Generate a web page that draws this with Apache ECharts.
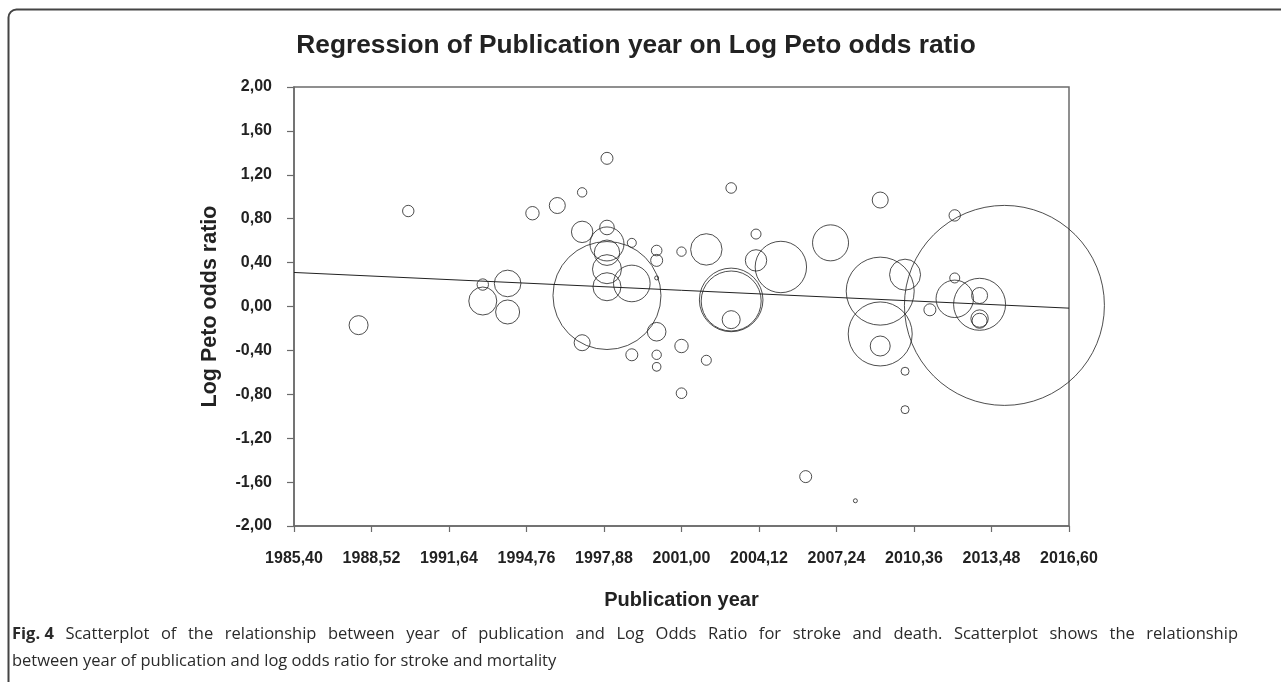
<!DOCTYPE html>
<html><head><meta charset="utf-8">
<script src="https://cdn.jsdelivr.net/npm/echarts@6/dist/echarts.min.js"></script>
<style>html,body{margin:0;padding:0;background:#fff}#c{width:1281px;height:682px}</style>
</head><body><div id="c"></div>
<script>
const chartTitle = 'Regression of Publication year on Log Peto odds ratio';
const xName = 'Publication year';
const yName = 'Log Peto odds ratio';
const captionBold = 'Fig. 4';
const captionLine1 = 'Scatterplot of the relationship between year of publication and Log Odds Ratio for stroke and death. Scatterplot shows the relationship';
const captionLine2 = 'between year of publication and log odds ratio for stroke and mortality';
const xTicks = [1985.40, 1988.52, 1991.64, 1994.76, 1997.88, 2001.00, 2004.12, 2007.24, 2010.36, 2013.48, 2016.60];
const years = [1988, 1990, 1993, 1993, 1994, 1994, 1995, 1996, 1997, 1997, 1997,
  1998, 1998, 1998, 1998, 1998, 1998, 1998, 1999, 1999, 1999,
  2000, 2000, 2000, 2000, 2000, 2000, 2001, 2001, 2001, 2002, 2002,
  2003, 2003, 2003, 2003, 2004, 2004, 2005, 2006, 2007, 2008,
  2009, 2009, 2009, 2009, 2010, 2010, 2010, 2011, 2012, 2012, 2012,
  2013, 2013, 2013, 2013, 2014];
const logOR = [-0.17, 0.87, 0.20, 0.05, 0.21, -0.05, 0.85, 0.92, 1.04, 0.68, -0.33,
  1.35, 0.72, 0.57, 0.49, 0.34, 0.18, 0.10, 0.58, 0.21, -0.44,
  0.51, 0.42, 0.26, -0.23, -0.44, -0.55, 0.50, -0.36, -0.79, 0.52, -0.49,
  1.08, 0.06, 0.05, -0.12, 0.66, 0.42, 0.36, -1.55, 0.58, -1.77,
  0.97, 0.14, -0.25, -0.36, 0.29, -0.59, -0.94, -0.03, 0.83, 0.26, 0.07,
  0.10, 0.02, -0.11, -0.13, 0.01];
const studyWeight = [9.5, 5.7, 5.7, 14, 13.3, 12, 6.7, 8, 4.7, 10.7, 8,
  6, 7.3, 17, 12.7, 14.5, 14, 54, 4.5, 18.3, 6,
  5.3, 6, 2, 9.3, 4.7, 4.3, 4.7, 6.7, 5.3, 15.7, 5,
  5.3, 31.8, 30, 9, 5, 10.7, 25.7, 6, 18, 2,
  8, 34, 32, 10, 15.5, 4, 4, 6, 5.7, 5, 18.7,
  8, 26, 8.7, 7.5, 100];
const regX = [1985.4, 2016.6];
const regY = [0.31, -0.015];

const fmt = v => (Math.round(v * 100) / 100).toFixed(2).replace('.', ',');
const bubbles = years.map((y, i) => [y, logOR[i], studyWeight[i]]);
const regLine = regX.map((x, i) => [x, regY[i]]);
const axisCol = '#6b6b6b';
const txtCol = '#222';
const capCol = '#2a2a2a';
const F = 'Liberation Sans, Arial, sans-serif';
const CF = 'Open Sans';
const CS = 16.5;

// justified first caption line
const ctx = document.createElement('canvas').getContext('2d');
const words = [{t: captionBold, b: true}].concat(captionLine1.split(' ').map(t => ({t, b: false})));
words.forEach(w => { ctx.font = (w.b ? 'bold ' : '') + CS + 'px "' + CF + '"'; w.w = ctx.measureText(w.t).width; });
const capLeft = 12, capRight = 1238;
const sumW = words.reduce((s, w) => s + w.w, 0);
const gap = (capRight - capLeft - sumW) / (words.length - 1);
const capGraphics = [];
let cx = capLeft;
words.forEach(w => {
  capGraphics.push({type: 'text', x: cx, y: 634, silent: true,
    style: {text: w.t, fontFamily: CF, fontWeight: w.b ? 'bold' : 'normal', fontSize: CS, fill: capCol, verticalAlign: 'middle'}});
  cx += w.w + gap;
});

const chart = echarts.init(document.getElementById('c'), null, {renderer: 'canvas'});
chart.setOption({
  animation: false,
  backgroundColor: '#fff',
  grid: {left: 294, right: 212, top: 87, bottom: 156, show: true, borderColor: axisCol, borderWidth: 1.5, containLabel: false},
  xAxis: {
    type: 'value', min: 1985.4, max: 2016.6,
    name: xName, nameLocation: 'middle', nameGap: 64,
    nameTextStyle: {fontFamily: F, fontWeight: 'bold', fontSize: 20, color: txtCol},
    axisLine: {show: true, onZero: false, lineStyle: {color: axisCol, width: 1.5}},
    axisTick: {show: true, inside: false, length: 6, lineStyle: {color: axisCol, width: 1.2}, customValues: xTicks},
    axisLabel: {margin: 25, fontFamily: F, fontWeight: 'bold', fontSize: 16, color: txtCol, customValues: xTicks, formatter: fmt, showMinLabel: true, showMaxLabel: true},
    splitLine: {show: false}
  },
  yAxis: {
    type: 'value', min: -2, max: 2, interval: 0.4,
    name: yName, nameLocation: 'middle', nameGap: 73, nameRotate: 90,
    nameTextStyle: {fontFamily: F, fontWeight: 'bold', fontSize: 21.5, color: txtCol},
    axisLine: {show: true, onZero: false, lineStyle: {color: axisCol, width: 1.5}},
    axisTick: {show: true, inside: false, length: 7, lineStyle: {color: axisCol, width: 1.2}},
    axisLabel: {margin: 22, fontFamily: F, fontWeight: 'bold', fontSize: 16, color: txtCol, formatter: fmt},
    splitLine: {show: false}
  },
  series: [
    {
      type: 'scatter', data: bubbles, clip: false, silent: true,
      symbol: 'circle', symbolSize: d => 2 * d[2],
      itemStyle: {color: 'rgba(0,0,0,0)', borderColor: '#222', borderWidth: 1},
      emphasis: {disabled: true}, z: 3
    },
    {
      type: 'line', data: regLine, symbol: 'none', silent: true,
      lineStyle: {color: '#222', width: 1}, z: 4
    }
  ],
  graphic: [
    {type: 'rect', shape: {x: 8.5, y: 9.5, width: 2000, height: 2000, r: 8}, style: {fill: 'none', stroke: '#444', lineWidth: 2}, silent: true},
    {type: 'text', x: 636, y: 46, style: {text: chartTitle, fontFamily: F, fontWeight: 'bold', fontSize: 26.3, fill: txtCol, align: 'center', verticalAlign: 'middle'}},
    {type: 'text', x: 12, y: 661, style: {text: captionLine2, fontFamily: CF, fontSize: CS, fill: capCol, verticalAlign: 'middle'}}
  ].concat(capGraphics)
});
</script>
</body></html>
